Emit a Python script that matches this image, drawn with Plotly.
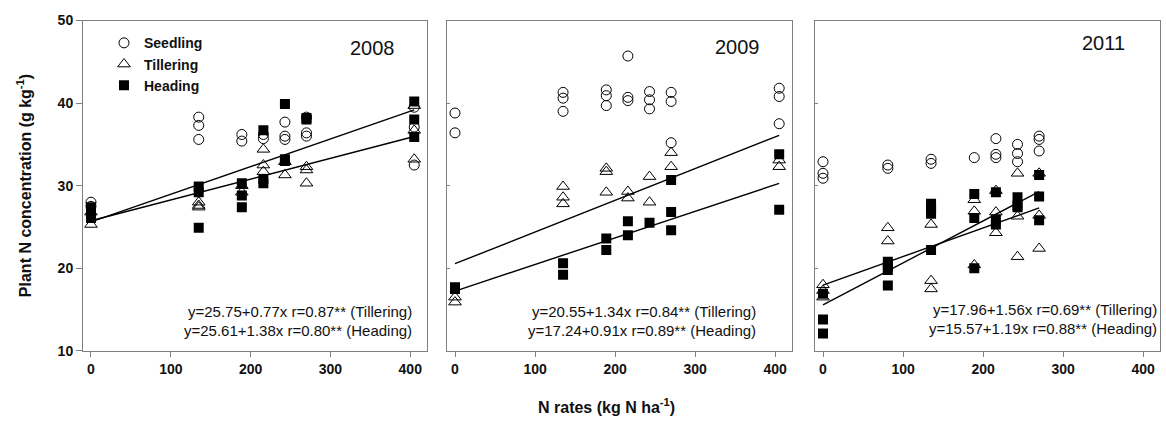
import plotly.graph_objects as go

# N application rates (kg N ha-1) per season
rates_2008 = [0, 135, 189, 216, 243, 270, 405]
rates_2009 = [0, 135, 189, 216, 243, 270, 405]
rates_2011 = [0, 81, 135, 189, 216, 243, 270]

# Plant N concentration (g kg-1), replicate values per rate
seedling_2008 = [[28.0, 27.5], [38.3, 37.3, 35.6], [36.2, 35.4], [36.2, 35.7],
                 [37.7, 36.0, 35.6], [38.3, 36.4, 36.0], [39.5, 37.1, 32.5]]
tillering_2008 = [[25.3, 26.8], [28.0, 27.6, 27.4], [30.0, 29.2], [34.4, 32.5, 31.7],
                  [32.9, 31.3], [32.3, 31.9, 30.3], [39.7, 36.7, 33.2]]
heading_2008 = [[27.4, 26.8, 26.1], [29.9, 29.2, 24.9], [30.3, 28.8, 27.4], [36.7, 30.8, 30.3],
                [39.9, 33.2, 33.0], [38.2, 38.0], [40.2, 38.0, 35.9]]

seedling_2009 = [[38.8, 36.4], [41.3, 40.6, 39.0], [41.6, 40.9, 39.7], [45.7, 40.7, 40.3],
                 [41.4, 40.4, 39.3], [41.3, 40.2, 35.2], [41.8, 40.8, 37.5]]
tillering_2009 = [[16.5, 15.9], [29.9, 28.6, 27.8], [32.1, 31.7, 29.2], [29.3, 28.5],
                  [31.1, 28.0], [34.0, 32.3], [33.1, 32.3]]
heading_2009 = [[17.5, 17.7], [20.6, 19.2], [23.6, 22.2], [25.7, 24.0],
                [25.5], [30.7, 26.8, 24.6], [33.8, 27.1]]

seedling_2011 = [[32.9, 31.5, 30.9], [32.5, 32.1], [33.2, 32.7], [33.4],
                 [35.7, 33.8, 33.4], [35.0, 33.9, 32.9], [36.0, 35.6, 34.2]]
tillering_2011 = [[18.0, 17.3, 16.5], [24.9, 23.3], [25.3, 18.5, 17.5], [28.3, 26.9, 20.4],
                  [29.4, 26.8, 24.3], [31.5, 26.3, 21.4], [31.5, 26.4, 22.4]]
heading_2011 = [[16.9, 13.8, 12.1], [20.8, 20.2, 19.8, 17.9], [27.8, 27.2, 26.6, 22.2],
                [29.0, 26.1, 20.0], [29.2, 25.9, 25.3], [28.6, 27.6, 27.4], [31.3, 28.7, 25.8]]

# Linear fits: intercept, slope per kg N, and the highest rate of the season
fit_intercept_tillering = [25.75, 20.55, 17.96]
fit_slope_tillering = [0.0252, 0.0384, 0.0346]
fit_intercept_heading = [25.61, 17.24, 15.57]
fit_slope_heading = [0.0335, 0.0322, 0.0508]
fit_x_end = [405, 405, 270]

years = ["2008", "2009", "2011"]
equations = [
    ["y=25.75+0.77x r=0.87** (Tillering)", "y=25.61+1.38x r=0.80** (Heading)"],
    ["y=20.55+1.34x r=0.84** (Tillering)", "y=17.24+0.91x r=0.89** (Heading)"],
    ["y=17.96+1.56x r=0.69** (Tillering)", "y=15.57+1.19x r=0.88** (Heading)"],
]

W, H = 1166, 433
FONT = "Liberation Sans, Arial, sans-serif"
INK = "#111111"
FRAME = "#808080"


def px(x):
    return x / W


def py(y):
    return 1 - y / H


def expand(rates, groups):
    xs, ys = [], []
    for r, vals in zip(rates, groups):
        for v in vals:
            xs.append(r)
            ys.append(v)
    return xs, ys


panels = [
    (rates_2008, seedling_2008, tillering_2008, heading_2008),
    (rates_2009, seedling_2009, tillering_2009, heading_2009),
    (rates_2011, seedling_2011, tillering_2011, heading_2011),
]
x_domains = [(83, 427), (447, 792), (815, 1160)]
y_domain = [py(356), py(13)]

fig = go.Figure()

styles = [
    ("Seedling", dict(symbol="circle-open", size=10, color="black", line=dict(width=1, color="black"))),
    ("Tillering", dict(symbol="triangle-up-open", size=11, color="black", line=dict(width=1, color="black"))),
    ("Heading", dict(symbol="square", size=10, color="black", line=dict(width=0))),
]

for i, (rates, seed, till, head) in enumerate(panels):
    xa = "x" if i == 0 else f"x{i + 1}"
    ya = "y" if i == 0 else f"y{i + 1}"
    for (name, marker), groups in zip(styles, (seed, till, head)):
        xs, ys = expand(rates, groups)
        fig.add_trace(go.Scatter(
            x=xs, y=ys, mode="markers", name=name, marker=marker,
            xaxis=xa, yaxis=ya, showlegend=(i == 0), legendgroup=name,
        ))
    for b0, b1 in ((fit_intercept_tillering[i], fit_slope_tillering[i]),
                   (fit_intercept_heading[i], fit_slope_heading[i])):
        xe = fit_x_end[i]
        fig.add_trace(go.Scatter(
            x=[0, xe], y=[b0, b0 + b1 * xe], mode="lines",
            line=dict(color="black", width=1.4), xaxis=xa, yaxis=ya, showlegend=False,
        ))

layout = dict(
    width=W, height=H, margin=dict(l=0, r=0, t=0, b=0),
    paper_bgcolor="white", plot_bgcolor="white",
    font=dict(family=FONT, color=INK),
    showlegend=True,
    legend=dict(
        x=px(104), y=py(20), xanchor="left", yanchor="top",
        bgcolor="rgba(0,0,0,0)", font=dict(size=14, weight="bold", family=FONT, color=INK),
        tracegroupgap=0, itemwidth=30,
    ),
)

for i, (d0, d1) in enumerate(x_domains):
    suffix = "" if i == 0 else str(i + 1)
    layout["xaxis" + suffix] = dict(
        domain=[px(d0), px(d1)], range=[-10, 421],
        tickvals=[0, 100, 200, 300, 400], ticks="outside", ticklen=5, tickcolor=FRAME,
        tickfont=dict(size=14, weight="bold", family=FONT, color=INK),
        showline=True, mirror=True, linecolor=FRAME, linewidth=1,
        showgrid=False, zeroline=False, anchor="y" + suffix,
    )
    layout["yaxis" + suffix] = dict(
        domain=y_domain, range=[10, 50],
        tickvals=[10, 20, 30, 40, 50],
        ticks="outside" if i == 0 else "inside", ticklen=6 if i == 0 else 3, tickcolor=FRAME,
        showticklabels=(i == 0),
        tickfont=dict(size=14, weight="bold", family=FONT, color=INK),
        showline=True, mirror=True, linecolor=FRAME, linewidth=1,
        showgrid=False, zeroline=False, anchor="x" + suffix,
    )

fig.update_layout(**layout)

annotations = []
year_pos = [(372, 42), (737, 40), (1103, 36)]
eq_pos = [(414, 315), (758, 315), (1159, 313)]
for i in range(3):
    annotations.append(dict(
        text=years[i], x=px(year_pos[i][0]), y=py(year_pos[i][1]), xref="paper", yref="paper",
        showarrow=False, xanchor="center", yanchor="middle",
        font=dict(size=20, family=FONT, color=INK),
    ))
    for k, line in enumerate(equations[i]):
        annotations.append(dict(
            text=line, x=px(eq_pos[i][0]), y=py(eq_pos[i][1] + 20 * k), xref="paper", yref="paper",
            showarrow=False, xanchor="right", yanchor="middle",
            font=dict(size=15, family=FONT, color=INK),
        ))

annotations.append(dict(
    text="Plant N concentration (g kg<sup>-1</sup>)", x=px(24), y=py(185),
    xref="paper", yref="paper", showarrow=False, textangle=-90,
    xanchor="center", yanchor="middle",
    font=dict(size=16, weight="bold", family=FONT, color=INK),
))
annotations.append(dict(
    text="N rates (kg N ha<sup>-1</sup>)", x=px(606), y=py(413),
    xref="paper", yref="paper", showarrow=False,
    xanchor="center", yanchor="middle",
    font=dict(size=16, weight="bold", family=FONT, color=INK),
))
fig.update_layout(annotations=annotations)

fig.write_html("out.html")
